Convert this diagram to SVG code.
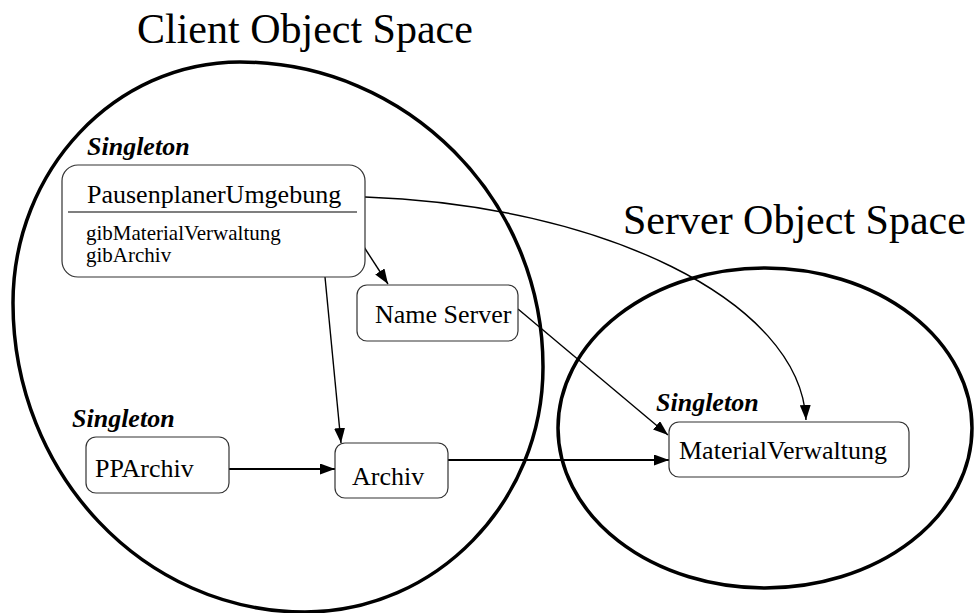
<svg xmlns="http://www.w3.org/2000/svg" width="975" height="613" viewBox="0 0 975 613">
  <style>
    .space { fill: none; stroke: #000; stroke-width: 3.5; }
    .title { font-family: "Liberation Serif", "Times New Roman", serif; font-size: 42px; fill: #000; }
    .box { fill: #fff; stroke: #333; stroke-width: 1.2; }
    .label { font-family: "Liberation Serif", "Times New Roman", serif; font-size: 26px; fill: #000; }
    .op { font-family: "Liberation Serif", "Times New Roman", serif; font-size: 21px; fill: #000; }
    .stereo { font-family: "Liberation Serif", "Times New Roman", serif; font-size: 26px; font-weight: bold; font-style: italic; fill: #000; }
    .edge { fill: none; stroke: #000; stroke-width: 1.4; marker-end: url(#arrow); }
    .edge.thick { stroke-width: 2; }
  </style>
  <defs>
    <marker id="arrow" markerUnits="userSpaceOnUse" markerWidth="15" markerHeight="11" refX="15" refY="5.5" orient="auto">
      <path d="M0,0 L15,5.5 L0,11 z" fill="#000"/>
    </marker>
  </defs>
  <rect width="975" height="613" fill="#fff"/>

  <!-- object spaces -->
  <g id="client-space">
    <path class="space" d="M240,62 C407,62 543,199 543,367 C543,502 436,612 305,612 C144,612 13,474 13,303 C13,170 115,62 240,62 Z"/>
    <text class="title" x="137" y="43">Client Object Space</text>
  </g>
  <g id="server-space">
    <ellipse class="space" cx="765" cy="428" rx="207" ry="160"/>
    <text class="title" x="623" y="234">Server Object Space</text>
  </g>

  <!-- connectors -->
  <g id="connectors">
    <path class="edge" d="M365,197 C600,205 800,300 806,420"/>
    <path class="edge" d="M364,247 L388,284"/>
    <path class="edge" d="M325,277 L341,443"/>
    <path class="edge" d="M518,309 L668,435"/>
    <path class="edge thick" d="M229,469 L335,469"/>
    <path class="edge thick" d="M448,460 L669,460"/>
  </g>

  <!-- nodes -->
  <g id="pausenplaner-umgebung">
    <text class="stereo" x="87" y="155">Singleton</text>
    <rect class="box" x="62" y="165" width="303" height="112" rx="16"/>
    <line x1="68" y1="212" x2="357" y2="212" stroke="#000" stroke-width="1.2"/>
    <text class="label" x="87" y="203">PausenplanerUmgebung</text>
    <text class="op" x="86" y="240">gibMaterialVerwaltung</text>
    <text class="op" x="86" y="262">gibArchiv</text>
  </g>
  <g id="name-server">
    <rect class="box" x="357" y="285" width="161" height="56" rx="10"/>
    <text class="label" x="375" y="323">Name Server</text>
  </g>
  <g id="pparchiv">
    <text class="stereo" x="72" y="427">Singleton</text>
    <rect class="box" x="86" y="437" width="143" height="56" rx="10"/>
    <text class="label" x="95" y="477">PPArchiv</text>
  </g>
  <g id="archiv">
    <rect class="box" x="335" y="443" width="113" height="55" rx="10"/>
    <text class="label" x="352" y="485">Archiv</text>
  </g>
  <g id="material-verwaltung">
    <text class="stereo" x="656" y="411">Singleton</text>
    <rect class="box" x="669" y="422" width="240" height="55" rx="10"/>
    <text class="label" x="679" y="459">MaterialVerwaltung</text>
  </g>
</svg>
